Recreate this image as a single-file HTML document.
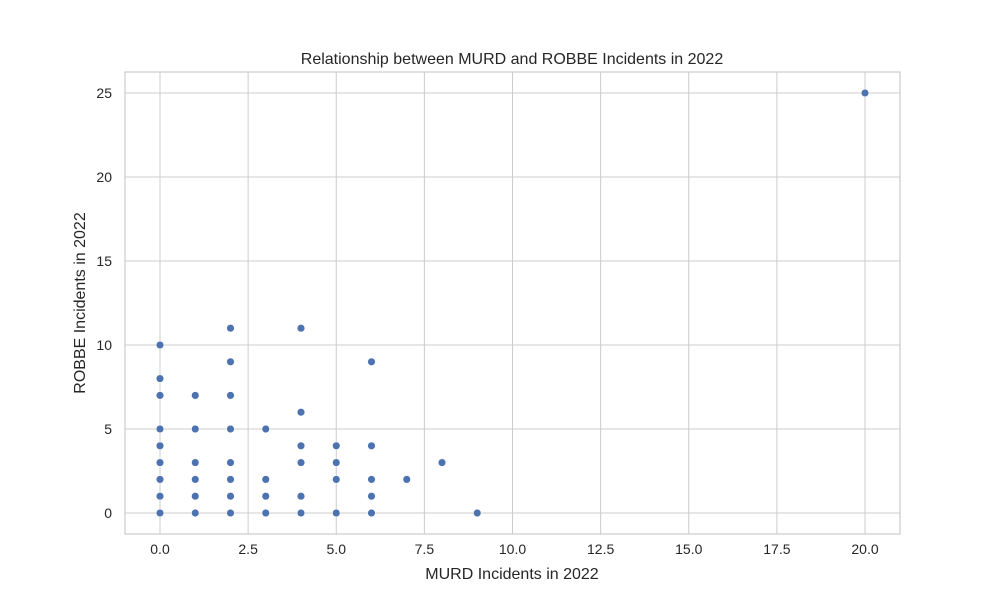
<!DOCTYPE html>
<html><head><meta charset="utf-8"><style>
body{margin:0;background:#fff;font-family:"Liberation Sans","DejaVu Sans",sans-serif;}
</style></head><body>
<svg id="chart" width="1000" height="600" xmlns="http://www.w3.org/2000/svg"></svg>
<script>
const murd = [20,0,0,0,0,0,0,0,0,0,1,1,1,1,1,1,2,2,2,2,2,2,2,2,3,3,3,3,4,4,4,4,4,4,5,5,5,5,6,6,6,6,6,7,8,9];
const robbe = [25,0,1,2,3,4,5,7,8,10,0,1,2,3,5,7,0,1,2,3,5,7,9,11,0,1,2,5,0,1,3,4,6,11,0,2,3,4,0,1,2,4,9,2,3,0];
const xTicks = [0,2.5,5,7.5,10,12.5,15,17.5,20];
const xTickLabels = ["0.0","2.5","5.0","7.5","10.0","12.5","15.0","17.5","20.0"];
const yTicks = [0,5,10,15,20,25];
const yTickLabels = ["0","5","10","15","20","25"];
const ns="http://www.w3.org/2000/svg";
const svg=document.getElementById('chart');
const L=125,R=900,T=72,B=534;
const x=v=>160+v*(865-160)/20;
const y=v=>513-v*(513-93)/25;
function mk(tag,attrs,parent){const e=document.createElementNS(ns,tag);for(const k in attrs)e.setAttribute(k,attrs[k]);(parent||svg).appendChild(e);return e;}
const grid=mk('g',{});


xTicks.forEach((t,i)=>{
  mk('line',{x1:x(t),x2:x(t),y1:T,y2:B,stroke:'#cccccc','stroke-width':1},grid);
  const tx=mk('text',{x:x(t),y:B+20,'text-anchor':'middle','font-size':14,fill:'#262626'});
  
  
  tx.textContent=xTickLabels[i];
});
yTicks.forEach((t,i)=>{
  mk('line',{x1:L,x2:R,y1:y(t),y2:y(t),stroke:'#cccccc','stroke-width':1},grid);
  const tx=mk('text',{x:L-13,y:y(t)+5,'text-anchor':'end','font-size':14,fill:'#262626'});
  
  
  tx.textContent=yTickLabels[i];
});
const frame=mk('rect',{x:L,y:T,width:R-L,height:B-T,fill:'none',stroke:'#cccccc','stroke-width':1.2});


murd.forEach((m,i)=>{
  const c=mk('circle',{cx:x(m),cy:y(robbe[i]),r:3.8,fill:'#4c72b0',stroke:'#fff','stroke-width':0.5});
  
  
});
const title=mk('text',{x:512,y:64,'text-anchor':'middle','font-size':16,fill:'#262626'});


title.textContent='Relationship between MURD and ROBBE Incidents in 2022';
const xl=mk('text',{x:512,y:579,'text-anchor':'middle','font-size':16,fill:'#262626'});


xl.textContent='MURD Incidents in 2022';
const yl=mk('text',{x:0,y:0,'text-anchor':'middle','font-size':16,fill:'#262626',transform:'translate(85,303) rotate(-90)'});


yl.textContent='ROBBE Incidents in 2022';
</script>
</body></html>
